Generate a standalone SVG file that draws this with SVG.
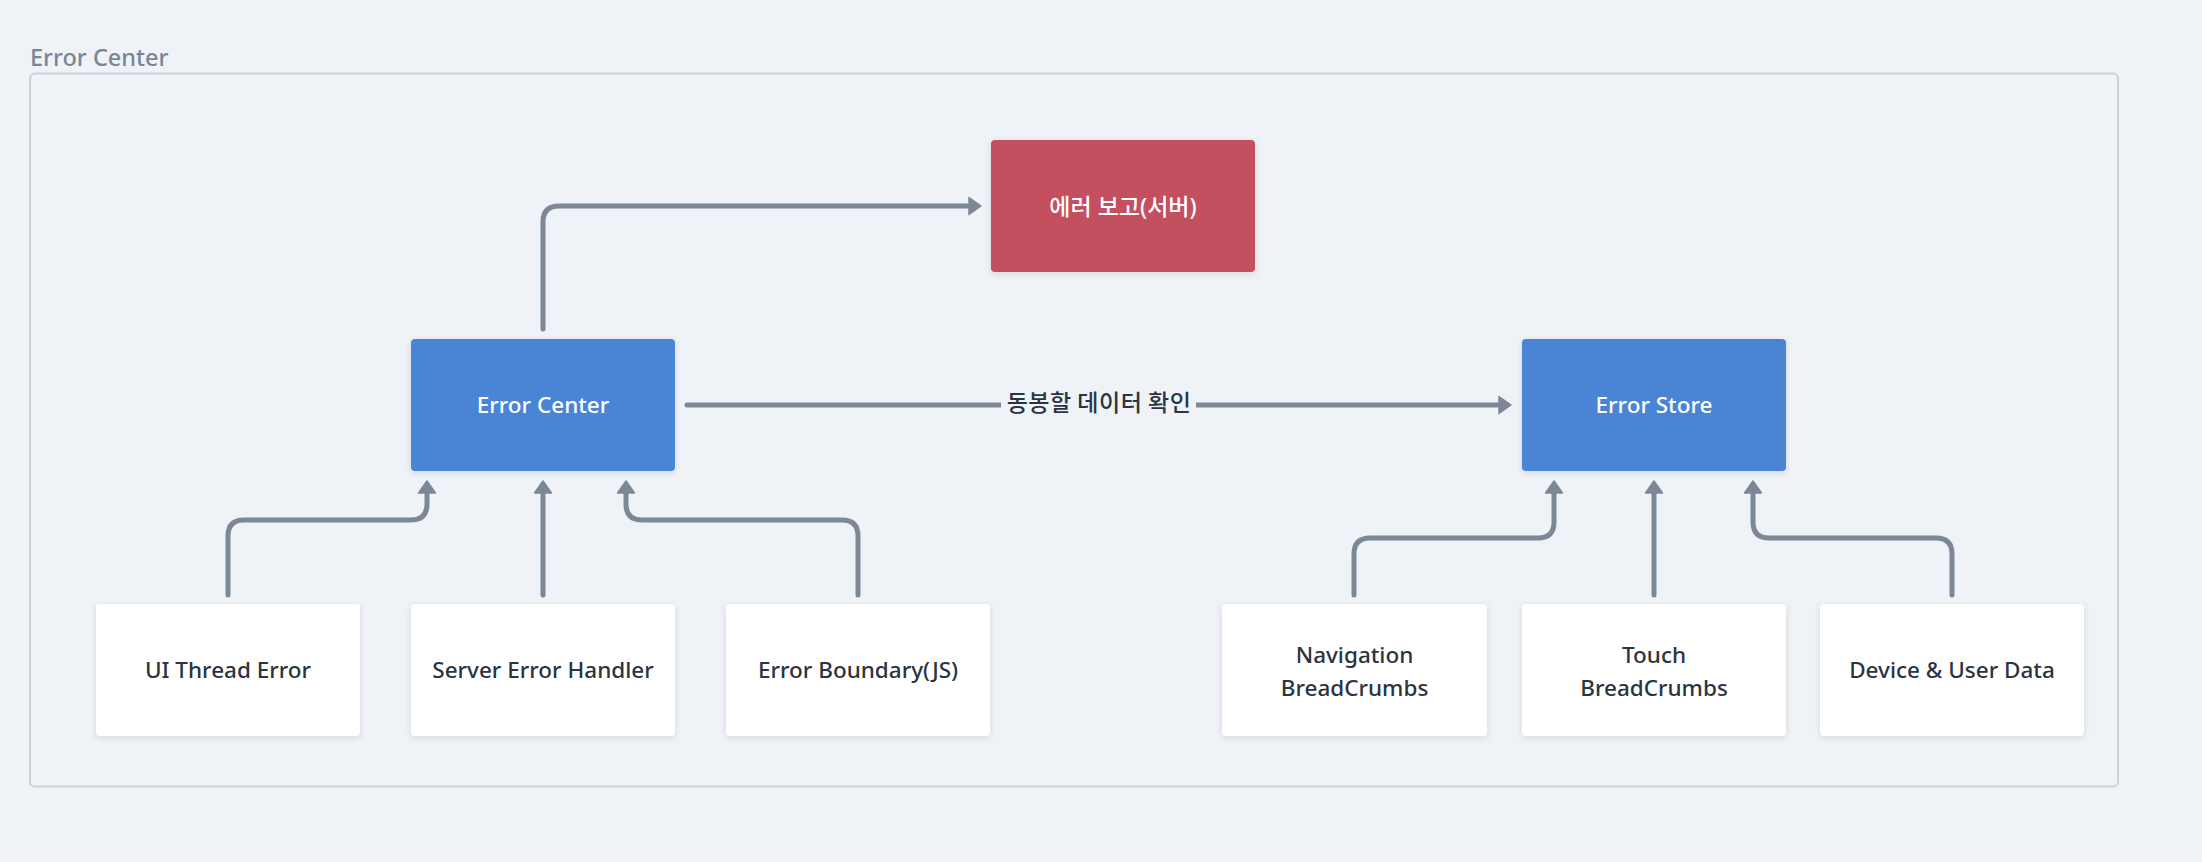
<svg xmlns="http://www.w3.org/2000/svg" width="2202" height="862" viewBox="0 0 2202 862">
  <defs>
    <style>
      .bg { fill: #eff3f7; }
      .frame { fill: none; stroke: #c9d1d9; stroke-width: 2; }
      .title { font-family: "Noto Sans", "Liberation Sans", sans-serif; font-size: 23.5px; font-weight: 500; fill: #7b8694; }
      .node-blue { fill: #4a85d4; }
      .node-red { fill: #c4505e; }
      .node-white { fill: #ffffff; }
      .t { font-family: "Noto Sans", "Noto Sans CJK KR", "Liberation Sans", sans-serif; font-size: 22.5px; font-weight: 500; text-anchor: middle; }
      .tw { fill: #ffffff; }
      .td { fill: #2b3440; }
      .kr { font-family: "Noto Sans", "Noto Sans CJK KR", sans-serif; font-size: 23px; font-weight: 500; text-anchor: middle; }
      .edge { fill: none; stroke: #7d8896; stroke-width: 5; stroke-linecap: round; stroke-linejoin: round; }
      .elabel { font-family: "Noto Sans CJK KR", "Noto Sans", sans-serif; font-size: 23px; font-weight: 500; letter-spacing: 0.5px; fill: #2b3440; text-anchor: middle; }
    </style>
    <marker id="ah" markerUnits="userSpaceOnUse" markerWidth="16" markerHeight="20" viewBox="0 0 16 20" refX="2" refY="10" orient="auto" overflow="visible">
      <path d="M2,1.5 L14,10 L2,18.5 Z" fill="#7d8896" stroke="#7d8896" stroke-width="1.5" stroke-linejoin="round"/>
    </marker>
    <filter id="sh" x="-10%" y="-10%" width="120%" height="130%">
      <feDropShadow dx="0" dy="2" stdDeviation="3" flood-color="#1f2d3d" flood-opacity="0.12"/>
    </filter>
  </defs>

  <rect class="bg" x="0" y="0" width="2202" height="862"/>

  <g id="group-error-center">
    <text class="title" x="30" y="66">Error Center</text>
    <rect class="frame" x="30" y="73.5" width="2088" height="713" rx="5"/>
  </g>

  <g id="connectors">
    <path class="edge" d="M543,329 V222 Q543,206 559,206 H969" marker-end="url(#ah)"/>
    <path class="edge" d="M687,405 H1499" marker-end="url(#ah)"/>
    <rect class="bg" x="1001" y="388" width="195" height="34"/>
    <text class="elabel" x="1099" y="411">동봉할 데이터 확인</text>
    <path class="edge" d="M228,595 V536 Q228,520 244,520 H411 Q427,520 427,504 V493" marker-end="url(#ah)"/>
    <path class="edge" d="M543,595 V493" marker-end="url(#ah)"/>
    <path class="edge" d="M858,595 V536 Q858,520 842,520 H642 Q626,520 626,504 V493" marker-end="url(#ah)"/>
    <path class="edge" d="M1354,595 V554 Q1354,538 1370,538 H1538 Q1554,538 1554,522 V493" marker-end="url(#ah)"/>
    <path class="edge" d="M1654,595 V493" marker-end="url(#ah)"/>
    <path class="edge" d="M1952,595 V554 Q1952,538 1936,538 H1769 Q1753,538 1753,522 V493" marker-end="url(#ah)"/>
  </g>

  <g id="node-report">
    <rect class="node-red" x="991" y="140" width="264" height="132" rx="4" filter="url(#sh)"/>
    <text class="kr tw" x="1123" y="215">에러 보고(서버)</text>
  </g>

  <g id="node-error-center">
    <rect class="node-blue" x="411" y="339" width="264" height="132" rx="4" filter="url(#sh)"/>
    <text class="t tw" x="543" y="413">Error Center</text>
  </g>

  <g id="node-error-store">
    <rect class="node-blue" x="1522" y="339" width="264" height="132" rx="4" filter="url(#sh)"/>
    <text class="t tw" x="1654" y="413">Error Store</text>
  </g>

  <g id="node-ui-thread">
    <rect class="node-white" x="96" y="604" width="264" height="132" rx="4" filter="url(#sh)"/>
    <text class="t td" x="228" y="678">UI Thread Error</text>
  </g>

  <g id="node-server-handler">
    <rect class="node-white" x="411" y="604" width="264" height="132" rx="4" filter="url(#sh)"/>
    <text class="t td" x="543" y="678">Server Error Handler</text>
  </g>

  <g id="node-error-boundary">
    <rect class="node-white" x="726" y="604" width="264" height="132" rx="4" filter="url(#sh)"/>
    <text class="t td" x="858" y="678">Error Boundary(JS)</text>
  </g>

  <g id="node-navigation">
    <rect class="node-white" x="1222" y="604" width="265" height="132" rx="4" filter="url(#sh)"/>
    <text class="t td" x="1354.5" y="663">Navigation</text>
    <text class="t td" x="1354.5" y="696">BreadCrumbs</text>
  </g>

  <g id="node-touch">
    <rect class="node-white" x="1522" y="604" width="264" height="132" rx="4" filter="url(#sh)"/>
    <text class="t td" x="1654" y="663">Touch</text>
    <text class="t td" x="1654" y="696">BreadCrumbs</text>
  </g>

  <g id="node-device">
    <rect class="node-white" x="1820" y="604" width="264" height="132" rx="4" filter="url(#sh)"/>
    <text class="t td" x="1952" y="678">Device &amp; User Data</text>
  </g>
</svg>
